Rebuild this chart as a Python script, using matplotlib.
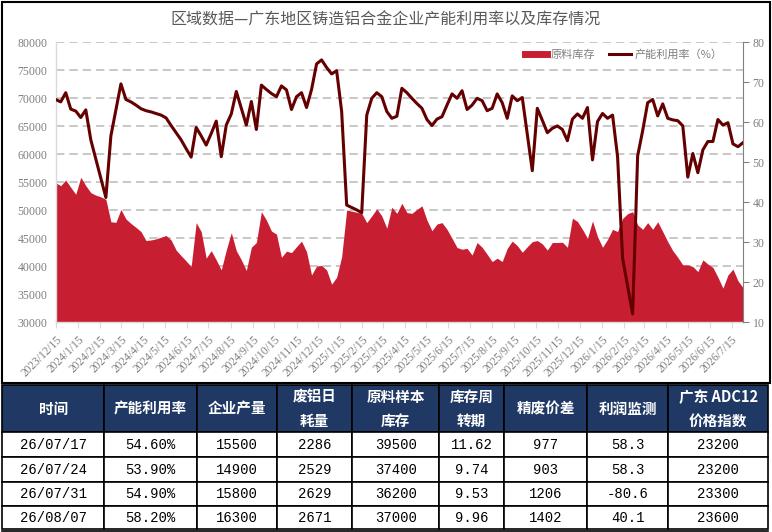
import matplotlib
matplotlib.use("Agg")
import matplotlib.pyplot as plt
from matplotlib.lines import Line2D
from matplotlib.patches import Rectangle
import pandas as pd

plt.rcParams['font.family'] = ['Noto Sans CJK SC', 'DejaVu Sans']

# weekly series (every Friday from 2023/12/15)
inventory = [
    54900, 54400, 55400, 54100, 52850, 55900, 54400, 53150, 52700, 52400,
    51950, 47950, 47850, 50150, 48450, 47650, 46950, 46200, 44600, 44700,
    44900, 45200, 45500, 44700, 42900, 41900, 40950, 39950, 47800, 46200,
    41450, 42800, 41150, 39350, 42900, 46000, 42800, 41150, 39250, 43400,
    44250, 49750, 48250, 46300, 45750, 41600, 42700, 42450, 43500, 44500,
    42600, 38450, 40050, 40150, 39350, 36800, 38050, 41700, 50050, 49850,
    49650, 49450, 47800, 49000, 50250, 49000, 46800, 50550, 49450, 51250,
    49600, 49450, 50150, 50800, 48250, 46350, 47550, 47800, 46600, 45000,
    43350, 43050, 43200, 42000, 44250, 43400, 42150, 40850, 41450, 40850,
    43200, 44500, 43700, 42500, 43500, 44400, 44600, 44000, 42900, 44250,
    44250, 44300, 43400, 48600, 48000, 46600, 45000, 48100, 45300, 43400,
    44800, 46600, 46200, 48550, 49400, 49750, 47400, 46600, 47800, 46600,
    47950, 46200, 44400, 42800, 41600, 40250, 40250, 39950, 39050, 41150,
    40400, 39800, 38050, 36100, 38450, 39500, 37400, 36200,
]
utilization = [
    65.7, 65.1, 67.4, 63.3, 62.8, 61.2, 63.1, 55.6, 50.8, 46.0,
    41.2, 56.6, 63.1, 69.6, 65.7, 65.1, 64.3, 63.4, 62.9, 62.6,
    62.2, 61.8, 61.1, 59.2, 57.4, 55.6, 53.4, 51.3, 58.7, 56.6,
    54.3, 57.2, 60.3, 51.4, 59.3, 62.1, 67.7, 63.5, 59.3, 65.2,
    58.2, 69.3, 68.2, 67.2, 66.4, 69.1, 68.1, 63.2, 66.4, 67.4,
    63.7, 68.2, 74.6, 75.6, 73.7, 72.1, 72.9, 62.7, 39.3, 38.7,
    38.1, 37.4, 61.8, 66.0, 67.4, 66.4, 62.7, 61.0, 61.5, 68.5,
    67.4, 66.0, 64.7, 63.5, 60.7, 59.2, 60.8, 61.4, 64.3, 67.1,
    66.0, 67.9, 63.2, 64.3, 66.0, 65.4, 62.9, 63.5, 67.1, 64.9,
    61.0, 66.6, 65.4, 66.2, 57.1, 47.9, 63.5, 60.5, 57.4, 58.5,
    59.1, 58.2, 55.4, 60.8, 62.1, 61.0, 63.7, 50.6, 60.2, 62.2,
    61.0, 61.8, 51.4, 26.0, 19.0, 12.1, 51.6, 57.9, 64.9, 65.7,
    61.6, 64.6, 61.0, 60.6, 60.4, 59.1, 46.3, 52.2, 47.4, 53.1,
    55.2, 55.2, 60.7, 59.3, 59.9, 54.6, 53.9, 54.9,
]
dates = pd.date_range("2023-12-15", periods=len(inventory), freq="7D")
month_ticks = pd.date_range("2023-12-15", "2026-07-15", freq=pd.DateOffset(months=1))
month_labels = [f"{d.year}/{d.month}/15" for d in month_ticks]

title = "区域数据—广东地区铸造铝合金企业产能利用率以及库存情况"
series_names = ["原料库存", "产能利用率（%）"]

table_header = ["时间", "产能利用率", "企业产量", "废铝日\n耗量", "原料样本\n库存",
                "库存周\n转期", "精废价差", "利润监测", "广东 ADC12\n价格指数"]
table_rows = [
    ["26/07/17", "54.60%", "15500", "2286", "39500", "11.62", "977", "58.3", "23200"],
    ["26/07/24", "53.90%", "14900", "2529", "37400", "9.74", "903", "58.3", "23200"],
    ["26/07/31", "54.90%", "15800", "2629", "36200", "9.53", "1206", "-80.6", "23300"],
    ["26/08/07", "58.20%", "16300", "2671", "37000", "9.96", "1402", "40.1", "23600"],
]

W, H = 772, 532
AREA_COLOR = "#C81E32"
LINE_COLOR = "#650000"
GRAY = "#7F7F7F"

fig = plt.figure(figsize=(W / 100, H / 100), dpi=100)

# chart area in pixels: x 55.7..743, y 42.3..322.3
ax = fig.add_axes([55.7 / W, 1 - 322.3 / H, (743 - 55.7) / W, 280 / H])
ax.fill_between(dates, inventory, 30000, color=AREA_COLOR, lw=0, zorder=2)
ax.set_ylim(30000, 80000)
ax.set_xlim(dates[0], dates[-1])
ax.set_yticks(range(30000, 80001, 5000))
ax.set_axisbelow(True)
ax.grid(axis="y", color="#BFBFBF", linestyle=(0, (5, 3)), linewidth=1.2)
ax.set_xticks(month_ticks)
ax.set_xticklabels(month_labels, rotation=45, ha="right", rotation_mode="anchor",
                   fontsize=8.3, color=GRAY, family=["Liberation Serif"])
ax.tick_params(axis="x", length=4, color="#D9D9D9", pad=4)
ax.tick_params(axis="y", length=0, pad=6, labelsize=8.5, labelcolor=GRAY)
for lab in ax.get_yticklabels():
    lab.set_family(["Liberation Serif"])
for side in ["top", "right"]:
    ax.spines[side].set_visible(False)
for side in ["left", "bottom"]:
    ax.spines[side].set_color("#D9D9D9")
    ax.spines[side].set_linewidth(1.0)

ax2 = ax.twinx()
ax2.plot(dates, utilization, color=LINE_COLOR, lw=2.2, zorder=3)
ax2.set_ylim(10, 80)
ax2.set_yticks(range(10, 81, 10))
ax2.tick_params(axis="y", length=4, color="#808080", labelsize=8.5, labelcolor=GRAY, pad=3)
for lab in ax2.get_yticklabels():
    lab.set_family(["Liberation Serif"])
for side in ["top", "left", "bottom"]:
    ax2.spines[side].set_visible(False)
ax2.spines["right"].set_color("#808080")

handles = [Line2D([], [], color=AREA_COLOR, lw=5),
           Line2D([], [], color=LINE_COLOR, lw=2.2)]
ax2.legend(handles, series_names, loc="upper right", bbox_to_anchor=(0.985, 1.01),
           ncol=2, frameon=False, fontsize=8, labelcolor=GRAY,
           handlelength=2.0, handletextpad=0.3, columnspacing=1.3)

fig.text(385.5 / W, 1 - 20 / H, title, ha="center", va="center",
         fontsize=11.5, fontweight="medium", color="#595959")

# overlay in pixel coordinates for frame and table
ov = fig.add_axes([0, 0, 1, 1], zorder=5)
ov.set_xlim(0, W)
ov.set_ylim(H, 0)
ov.axis("off")

ov.add_patch(Rectangle((1.5, 1.5), 768, 381, fill=False, ec="black", lw=1.5))

col_x = [2, 104.3, 196.7, 277.3, 352.3, 439.3, 504, 587.3, 668.3, 768.3]
row_y = [385, 432.3, 457.3, 481.7, 506, 529.3]

for j, head in enumerate(table_header):
    x0, x1 = col_x[j], col_x[j + 1]
    ov.add_patch(Rectangle((x0, row_y[0]), x1 - x0, row_y[1] - row_y[0],
                           fc="#1F3864", ec="black", lw=1.2))
    ov.text((x0 + x1) / 2, (row_y[0] + row_y[1]) / 2, head, ha="center", va="center",
            color="white", fontsize=10.5, fontweight="bold", linespacing=1.6)

for i, row in enumerate(table_rows):
    y0, y1 = row_y[i + 1], row_y[i + 2]
    for j, val in enumerate(row):
        x0, x1 = col_x[j], col_x[j + 1]
        ov.add_patch(Rectangle((x0, y0), x1 - x0, y1 - y0, fc="white", ec="black", lw=1.2))
        ov.text((x0 + x1) / 2, (y0 + y1) / 2 + 0.5, val, ha="center", va="center",
                color="black", fontsize=10, family=["Liberation Mono"])

ov.plot([2, 768.3], [531, 531], color="black", lw=1.2)

fig.savefig("out.png", dpi=100)
